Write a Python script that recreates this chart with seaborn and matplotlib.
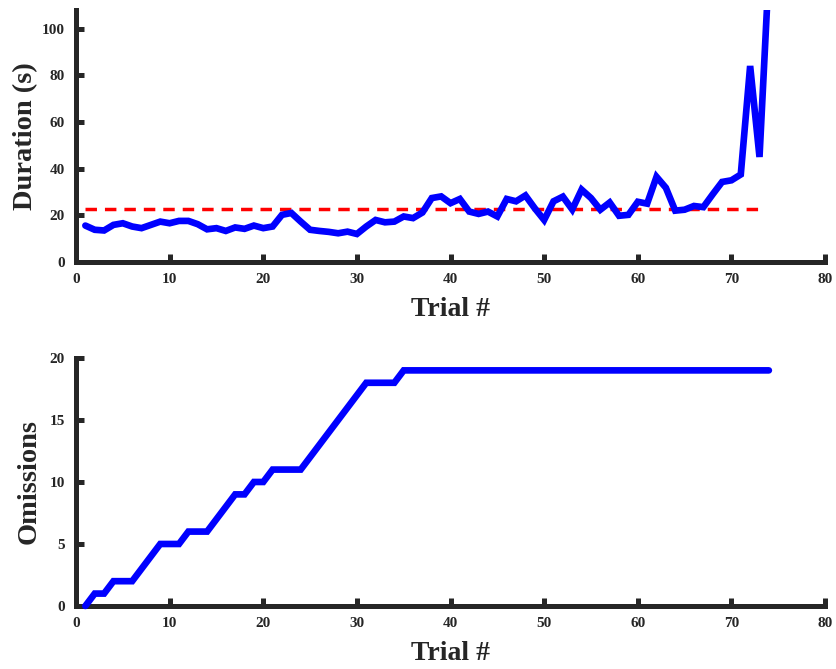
import numpy as np
import pandas as pd
import matplotlib
matplotlib.use("Agg")
import matplotlib.pyplot as plt
import seaborn as sns

# ---- data ----
trials = list(range(1, 75))
duration = [15.6, 13.8, 13.5, 15.9, 16.6, 15.2, 14.5, 15.9, 17.3, 16.6,
            17.6, 17.6, 16.2, 14.0, 14.5, 13.3, 14.8, 14.2, 15.6, 14.5,
            15.2, 20.2, 21.0, 17.3, 13.8, 13.3, 12.9, 12.3, 13.0, 12.0,
            15.2, 18.0, 17.0, 17.3, 19.5, 18.8, 21.2, 27.4, 28.1, 25.2,
            27.0, 21.6, 20.6, 21.6, 19.5, 27.0, 26.0, 28.5, 23.0, 18.0,
            26.0, 28.0, 22.5, 31.0, 27.4, 22.4, 25.5, 19.8, 20.2, 25.8,
            25.0, 36.5, 31.8, 22.0, 22.4, 24.0, 23.5, 29.0, 34.3, 35.0,
            37.5, 84.0, 45.0, 125.0]
omissions = [0, 1, 1, 2, 2, 2, 3, 4, 5, 5,
             5, 6, 6, 6, 7, 8, 9, 9, 10, 10,
             11, 11, 11, 11, 12, 13, 14, 15, 16, 17,
             18, 18, 18, 18, 19, 19, 19, 19, 19, 19,
             19, 19, 19, 19, 19, 19, 19, 19, 19, 19,
             19, 19, 19, 19, 19, 19, 19, 19, 19, 19,
             19, 19, 19, 19, 19, 19, 19, 19, 19, 19,
             19, 19, 19, 19]
threshold_x = [1, 73]
threshold_y = [22.8, 22.8]

x_ticks = [0, 10, 20, 30, 40, 50, 60, 70, 80]
dur_ticks = [0, 20, 40, 60, 80, 100]
om_ticks = [0, 5, 10, 15, 20]

df = pd.DataFrame({"Trial": trials, "Duration": duration, "Omissions": omissions})
thr = pd.DataFrame({"Trial": threshold_x, "Threshold": threshold_y})

sns.set_style("white")
plt.rcParams["font.family"] = ["Liberation Serif", "DejaVu Serif"]
plt.rcParams["font.weight"] = "bold"

dark = "#262626"
fig = plt.figure(figsize=(8.36, 6.69), dpi=100)
ax1 = fig.add_axes([0.0909, 0.6084, 0.896, 0.3767])
ax2 = fig.add_axes([0.0909, 0.0942, 0.896, 0.3707])

sns.lineplot(data=df, x="Trial", y="Duration", ax=ax1, color="#0000ff",
             linewidth=4.8, solid_joinstyle="miter", zorder=3)
sns.lineplot(data=thr, x="Trial", y="Threshold", ax=ax1, color="#ff0000",
             linewidth=2.5, dashes=False, zorder=2)
ax1.lines[-1].set_dashes([3.3, 2.3])
sns.lineplot(data=df, x="Trial", y="Omissions", ax=ax2, color="#0000ff",
             linewidth=4.8, solid_joinstyle="miter", zorder=3)
ax2.lines[-1].set_clip_on(False)

for ax, yt, ylim, ylab, lp in [(ax1, dur_ticks, (0, 108), "Duration (s)", 3),
                               (ax2, om_ticks, (0, 20), "Omissions", 6)]:
    ax.set_xlim(0, 80)
    ax.set_ylim(*ylim)
    ax.set_xticks(x_ticks)
    ax.set_yticks(yt)
    ax.set_xticklabels([str(v) for v in x_ticks], fontsize=11, fontweight="bold", color=dark)
    ax.set_yticklabels([str(v) for v in yt], fontsize=11, fontweight="bold", color=dark)
    ax.set_xlabel("Trial #", fontsize=20, fontweight="bold", color=dark, labelpad=8)
    ax.set_ylabel(ylab, fontsize=20.5, fontweight="bold", color=dark, labelpad=lp)
    for s in ["top", "right"]:
        ax.spines[s].set_visible(False)
    for s in ["left", "bottom"]:
        ax.spines[s].set_linewidth(3.6)
        ax.spines[s].set_color(dark)
        ax.spines[s].set_capstyle("projecting")
    ax.tick_params(axis="x", bottom=True, top=False)
    ax.tick_params(axis="y", left=True, right=False)
    ax.tick_params(direction="in", length=6, width=3.6, color=dark, pad=8)
    ax.set_facecolor("white")
    ax.grid(False)

fig.savefig("out.png", dpi=100, facecolor="white")
